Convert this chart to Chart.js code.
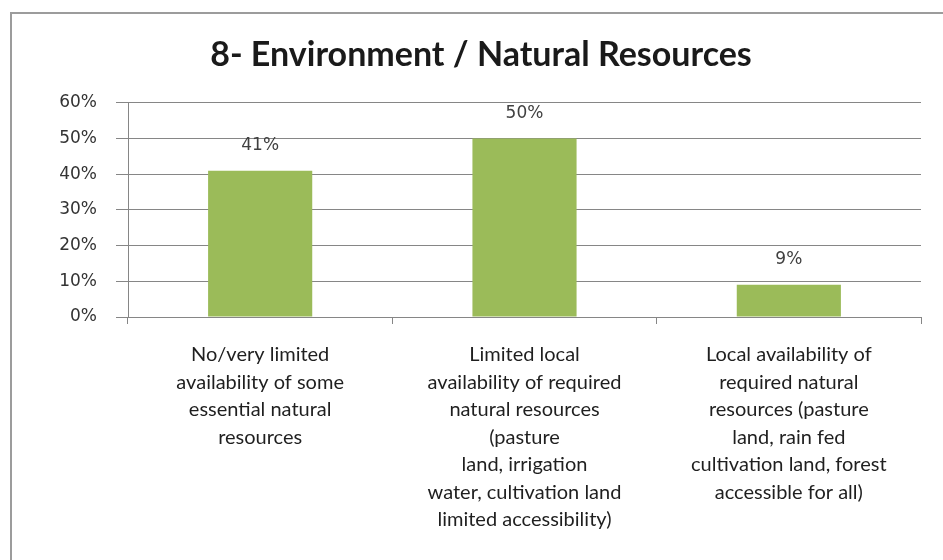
<!DOCTYPE html>
<html>
<head>
<meta charset="utf-8">
<script src="https://cdn.jsdelivr.net/npm/chart.js@4/dist/chart.umd.min.js"></script>
<style>
  html, body { margin: 0; padding: 0; background: #fff; overflow: hidden; }
  #wrap { position: relative; width: 943px; height: 560px; overflow: hidden; }
  #frame { position: absolute; left: 10px; top: 12px; width: 960px; height: 580px; border: 2px solid #9c9c9c; box-sizing: border-box; }
  #chart { position: absolute; left: 0; top: 0; }
</style>
</head>
<body>
<div id="wrap">
  <div id="frame"></div>
  <canvas id="chart" width="943" height="560"></canvas>
</div>
<script>
const chartTitle = '8- Environment / Natural Resources';
const categories = [
    ['No/very limited', 'availability of some', 'essential natural', 'resources'],
    ['Limited local', 'availability of required', 'natural resources', '(pasture', 'land, irrigation', 'water, cultivation land', 'limited accessibility)'],
    ['Local availability of', 'required natural', 'resources (pasture', 'land, rain fed', 'cultivation land, forest', 'accessible for all)']
];
const shares = [41, 50, 9];
const yTicks = [0, 10, 20, 30, 40, 50, 60];

// value labels above each bar
const barLabels = {
    id: 'barLabels',
    afterDatasetsDraw(chart) {
        const ctx = chart.ctx;
        const meta = chart.getDatasetMeta(0);
        ctx.save();
        ctx.font = '17px "DejaVu Sans"';
        ctx.fillStyle = '#404040';
        ctx.textAlign = 'center';
        ctx.textBaseline = 'middle';
        meta.data.forEach((bar, i) => {
            ctx.fillText(shares[i] + '%', bar.x, bar.y - 25);
        });
        ctx.restore();
    }
};

const ctx = document.getElementById('chart').getContext('2d');
new Chart(ctx, {
    type: 'bar',
    data: {
        labels: categories,
        datasets: [{
            data: shares,
            backgroundColor: '#9bbb59',
            borderWidth: 0,
            categoryPercentage: 1,
            barPercentage: 0.394
        }]
    },
    plugins: [barLabels],
    options: {
        responsive: false,
        animation: false,
        // left padding shifts the title centre; the y scale fills the rest up to the plot
        layout: { padding: { left: 41, right: 22, top: 0, bottom: 0 } },
        plugins: {
            legend: { display: false },
            tooltip: { enabled: false },
            title: {
                display: true,
                text: chartTitle,
                color: '#1a1a1a',
                font: { family: 'Lato', size: 34, weight: 'bold', lineHeight: 1.2 },
                padding: { top: 35, bottom: 27 }
            }
        },
        scales: {
            x: {
                afterFit: (scale) => { scale.height = 243; },
                grid: {
                    offset: true,
                    drawOnChartArea: false,
                    drawTicks: true,
                    tickLength: 7,
                    color: '#868686'
                },
                border: { display: true, color: '#868686', width: 1 },
                ticks: {
                    color: '#1f1f1f',
                    padding: 17,
                    maxRotation: 0,
                    autoSkip: false,
                    font: { family: 'Lato', size: 20, lineHeight: 1.375 }
                }
            },
            y: {
                min: 0,
                max: 60,
                afterFit: (scale) => { scale.width = 128 - 41; },
                afterBuildTicks: (scale) => { scale.ticks = yTicks.map(v => ({ value: v })); },
                grid: {
                    color: '#868686',
                    drawTicks: true,
                    tickLength: 12
                },
                border: { display: true, color: '#868686', width: 1 },
                ticks: {
                    color: '#333',
                    padding: 19,
                    font: { family: 'DejaVu Sans', size: 17 },
                    callback: (v) => v + '%'
                }
            }
        }
    }
});
</script>
</body>
</html>
